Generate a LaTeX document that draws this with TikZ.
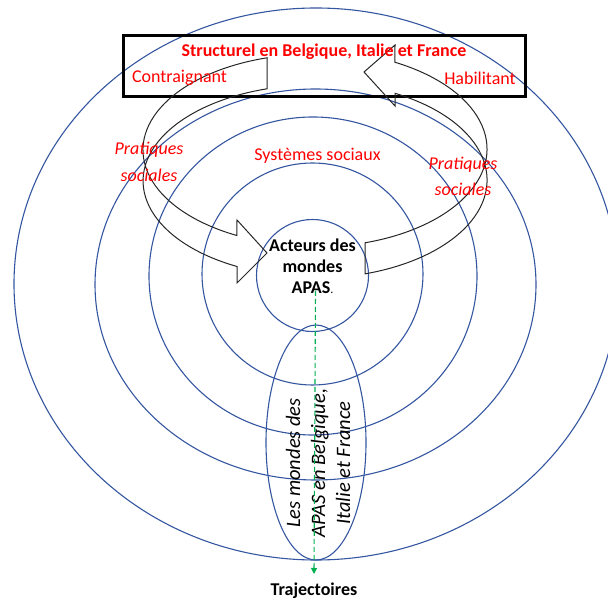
\documentclass[tikz,border=0pt]{standalone}
\usepackage{fontspec}
\setmainfont{Carlito}
\usetikzlibrary{shapes.geometric,arrows.meta}
\definecolor{ringblue}{RGB}{52,86,160}
\definecolor{txtred}{RGB}{255,0,0}
\definecolor{trajgreen}{RGB}{0,176,80}
\tikzset{
  ring/.style={draw=ringblue, line width=1.1pt, ellipse, inner sep=0pt},
  band/.style={draw=black!85, line width=1pt},
  lbl/.style={inner sep=0pt, font=\fontsize{18}{27}\selectfont, align=center},
  redlbl/.style={lbl, text=txtred},
}
\begin{document}
\begin{tikzpicture}[x=1pt,y=-1pt]
\useasboundingbox (0,0) rectangle (608,601);
% concentric rings
\node[ring, minimum width=604pt, minimum height=552pt] (e1) at (316,284) {};
\node[ring, minimum width=441pt, minimum height=391pt] (e2) at (315.5,284.5) {};
\node[ring, minimum width=328pt, minimum height=318pt] (e3) at (313,276) {};
\node[ring, minimum width=221pt, minimum height=222pt] (e4) at (312.5,274) {};
\node[ring, minimum width=112pt, minimum height=112pt] (e5) at (312.5,275.5) {};
\node[ring, minimum width=100pt, minimum height=235pt] (ev) at (316,442.5) {};
% frame
\node[draw=black, line width=3pt, minimum width=401.5pt, minimum height=61pt, inner sep=0pt] (frame) at (324.25,66.5) {};
% left curved arrow (Contraignant -> acteurs)
\draw[band] (267,57.8) arc[start angle=253.8, end angle=117, x radius=172, y radius=96]
  -- (237,220) -- (267,253) -- (237,283) -- (237,266.5)
  arc[start angle=117, end angle=253.8, x radius=172, y radius=96] -- cycle;
% right curved arrow (acteurs -> Habilitant)
\draw[band] (365,242.8) arc[start angle=73.1, end angle=-62.3, x radius=172, y radius=98]
  -- (395,45) -- (364,72) -- (395,106) -- (395,93.3)
  arc[start angle=-62.3, end angle=73.1, x radius=172, y radius=98] -- cycle;
% texts
\node[redlbl, font=\fontsize{18}{27}\selectfont\bfseries] (title) at (324,52) {Structurel en Belgique, Italie et France};
\node[redlbl] (contr) at (179.5,78) {Contraignant};
\node[redlbl] (habil) at (480,78) {Habilitant};
\node[redlbl, font=\fontsize{18}{27}\selectfont\itshape] (prat1) at (149,161.5) {Pratiques\\sociales};
\node[redlbl, font=\fontsize{18}{26}\selectfont\itshape] (prat2) at (463,176) {Pratiques\\sociales};
\node[redlbl] (sys) at (317.5,156) {Systèmes sociaux};
\node[lbl, font=\fontsize{18}{21}\selectfont\bfseries] (act) at (312.5,266) {Acteurs des\\mondes\\APAS{\normalfont\fontsize{12}{12}\selectfont .}};
\node[lbl, font=\fontsize{20.5}{25}\selectfont\itshape, rotate=90] (mondes) at (318,463) {Les mondes des\\APAS en Belgique,\\Italie et France};
\node[lbl, font=\fontsize{18}{21}\selectfont\bfseries] (traj) at (314,591) {Trajectoires};
% trajectory arrow
\coordinate (gs) at (315.5,291);
\coordinate (ge) at (314,574);
\draw[trajgreen, line width=1.1pt, dash pattern=on 5pt off 3pt, -{Triangle[length=6pt,width=6pt]}] (gs) -- (ge);
\end{tikzpicture}
\end{document}
